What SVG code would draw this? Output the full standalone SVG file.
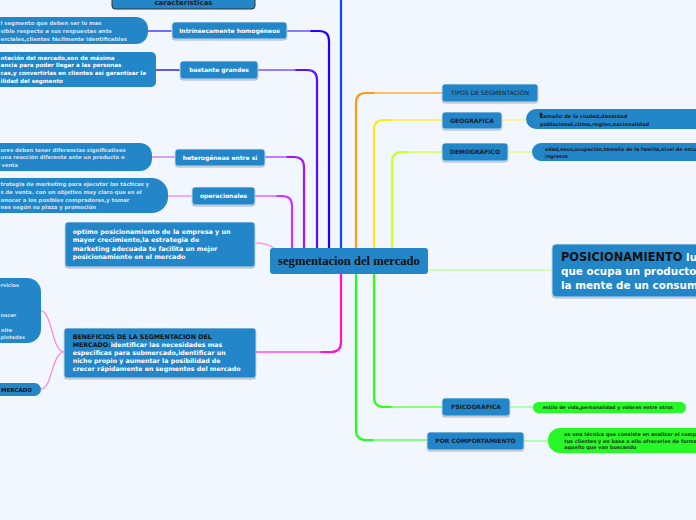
<svg xmlns="http://www.w3.org/2000/svg" width="696" height="520" viewBox="0 0 696 520">
<defs>
<filter id="sh" x="-10%" y="-20%" width="120%" height="150%"><feDropShadow dx="0" dy="1" stdDeviation="0.7" flood-color="#556070" flood-opacity="0.55"/></filter>
<style>
.node{fill:#2386c9;stroke:#e4ecf6;stroke-width:0.8;filter:url(#sh)}
.desc{fill:#2386c9}
.gdesc{fill:#28f828}
.t{font-family:"DejaVu Sans",Verdana,sans-serif;font-weight:bold}
.w{fill:#ffffff}
.d{fill:#1a1c2c}
.l{fill:#d6e2f0}
.c{fill:none;stroke-linecap:round}
</style>
</defs>
<rect width="696" height="520" fill="#f2f6fe"/>

<g id="connectors">
<path class="c" d="M255,196 H282 Q292,196 292,206 V249" stroke="#cc33ff" stroke-width="2.2"/>
<path class="c" d="M256,196 H276" stroke="#e7a6ff" stroke-width="1.4"/>
<path class="c" d="M265,157 H294 Q304,157 304,167 V249" stroke="#9a1aff" stroke-width="2.2"/>
<path class="c" d="M266,157 H286" stroke="#c9a0ff" stroke-width="1.4"/>
<path class="c" d="M258,70 H307 Q317,70 317,80 V249" stroke="#5511ff" stroke-width="2.2"/>
<path class="c" d="M259,70 H295" stroke="#b0a0ff" stroke-width="1.4"/>
<path class="c" d="M287,31 H319 Q329,31 329,41 V249" stroke="#2200ff" stroke-width="2.2"/>
<path class="c" d="M288,31 H310" stroke="#a8a8ff" stroke-width="1.4"/>
<path class="c" d="M341,-2 V249" stroke="#1144ff" stroke-width="2.2"/>
<path class="c" d="M356,249 V103 Q356,93 366,93 H442" stroke="#ff9a11" stroke-width="2.2"/>
<path class="c" d="M375,93 H441" stroke="#ffc988" stroke-width="1.4"/>
<path class="c" d="M374,249 V130 Q374,120 384,120 H442" stroke="#ffea11" stroke-width="2.2"/>
<path class="c" d="M392,120 H441" stroke="#fff088" stroke-width="1.4"/>
<path class="c" d="M392,249 V162 Q392,152 402,152 H442" stroke="#ccff22" stroke-width="2.2"/>
<path class="c" d="M408,152 H441" stroke="#e6ff88" stroke-width="1.4"/>
<path class="c" d="M341,273 V342 Q341,352 331,352 H256" stroke="#ff11cc" stroke-width="2.2"/>
<path class="c" d="M320,352 H257" stroke="#ff99e6" stroke-width="1.4"/>
<path class="c" d="M374,273 V397 Q374,407 384,407 H442" stroke="#33ff11" stroke-width="2.2"/>
<path class="c" d="M392,407 H441" stroke="#a8ff99" stroke-width="1.4"/>
<path class="c" d="M356,273 V430 Q356,440 366,440 H427" stroke="#22ff22" stroke-width="2.2"/>
<path class="c" d="M374,440 H426" stroke="#a0ffa0" stroke-width="1.4"/>
<path class="c" d="M428,270 H551" stroke="#ccff99" stroke-width="1.4"/>
<path class="c" d="M255,243 C265,243 270,245 274,248" stroke="#ff99ee" stroke-width="1.4"/>
<path class="c" d="M148,31 H172" stroke="#4444ff" stroke-width="1.3"/>
<path class="c" d="M156,70 H180" stroke="#3322dd" stroke-width="1.3"/>
<path class="c" d="M152,157 H175" stroke="#cc88ee" stroke-width="1.3"/>
<path class="c" d="M168,196 H192" stroke="#ee99ee" stroke-width="1.3"/>
<path class="c" d="M64,352 C52,352 52,311 41,311" stroke="#ff77dd" stroke-width="1.1"/>
<path class="c" d="M64,352 C52,352 52,389 41,389" stroke="#ff77dd" stroke-width="1.1"/>
<path class="c" d="M502,120 H526" stroke="#fff088" stroke-width="1.4"/>
<path class="c" d="M508,152 H532" stroke="#e0ff77" stroke-width="1.4"/>
<path class="c" d="M510,407 H533" stroke="#99ff99" stroke-width="1.4"/>
<path class="c" d="M524,441 H548" stroke="#99ff99" stroke-width="1.4"/>
</g>

<g id="central">
<rect x="270" y="248" width="158" height="26" rx="3" fill="#2386c9"/>
<text x="349" y="265.2" text-anchor="middle" font-family="'Liberation Serif',serif" font-weight="bold" font-size="12.6" fill="#111">segmentacion del mercado</text>
</g>

<g id="caracteristicas">
<rect x="112" y="-20" width="143" height="29" rx="3" fill="#2386c9" stroke="#333" stroke-width="1"/>
<text x="183.5" y="4.5" text-anchor="middle" class="t d" font-size="7">características</text>
</g>

<g id="homogeneos">
<rect x="-20" y="17" width="168" height="27" rx="12" class="desc"/>
<text class="t l" font-size="5.4"><tspan x="0.5" y="25.3">l segmento que deben ser lo mas</tspan><tspan x="0.5" y="33">sible respecto a sus respuestas ante</tspan><tspan x="0.5" y="40.6">erciales,clientes fácilmente identificables</tspan></text>
<rect x="172" y="22" width="115" height="17" rx="3" class="node"/>
<text x="229.5" y="33" text-anchor="middle" class="t w" font-size="6">Intrínsecamente homogéneos</text>
</g>

<g id="grandes">
<rect x="-20" y="52" width="176" height="35" rx="5" class="desc"/>
<text class="t w" font-size="5.6"><tspan x="0.5" y="59.5">ntación del mercado,son de máxima</tspan><tspan x="0.5" y="67.2">ancia para poder llegar a las personas</tspan><tspan x="0.5" y="75">cas,y convertirlas en clientes así garantizar la</tspan><tspan x="0.5" y="82.6">ilidad del segmento</tspan></text>
<rect x="180" y="61" width="78" height="18" rx="3" class="node"/>
<text x="219" y="72.2" text-anchor="middle" class="t w" font-size="6">bastante grandes</text>
</g>

<g id="heterogeneas">
<rect x="-20" y="143" width="172" height="28" rx="12" class="desc"/>
<text class="t l" font-size="5.2"><tspan x="0.5" y="152">ores deben tener diferencias significativas</tspan><tspan x="0.5" y="159.4">una reacción diferente ante un producto o</tspan><tspan x="1.5" y="166.6">venta</tspan></text>
<rect x="175" y="149" width="90" height="17" rx="3" class="node"/>
<text x="220" y="159.6" text-anchor="middle" class="t w" font-size="6">heterogéneas entre sí</text>
</g>

<g id="operacionales">
<rect x="-20" y="178" width="188" height="35" rx="16" class="desc"/>
<text class="t l" font-size="5.3"><tspan x="0.5" y="186.3">trategia de marketing para ejecutar las tácticas y</tspan><tspan x="0.5" y="194.2">s de venta. con un objetivo muy claro que es el</tspan><tspan x="0.5" y="202.4">onocer a los posibles compradores,y tomar</tspan><tspan x="0.5" y="209.4">nes según su plaza y promoción</tspan></text>
<rect x="192" y="187" width="63" height="18" rx="3" class="node"/>
<text x="223.5" y="198.2" text-anchor="middle" class="t w" font-size="6">operacionales</text>
</g>

<g id="optimo">
<rect x="65" y="222" width="190" height="45" rx="3" class="node"/>
<text class="t w" font-size="6.4"><tspan x="72.7" y="234">optimo posicionamiento de la empresa y un</tspan><tspan x="72.7" y="242.3">mayor crecimiento,la estrategia de</tspan><tspan x="72.7" y="250.6">marketing adecuada te facilita un mejor</tspan><tspan x="72.7" y="259">posicionamiento en el mercado</tspan></text>
</g>

<g id="beneficios">
<rect x="64" y="328" width="192" height="50" rx="3" class="node"/>
<text class="t w" font-size="6.3"><tspan x="72.7" y="339" fill="#111">BENEFICIOS DE LA SEGMENTACION DEL</tspan><tspan x="72.7" y="346.8"><tspan fill="#111">MERCADO:</tspan>identificar las necesidades mas</tspan><tspan x="72.7" y="354.8">especificas para submercado,identificar un</tspan><tspan x="72.7" y="363">nicho propio y aumentar la posibilidad de</tspan><tspan x="72.7" y="371.3">crecer rápidamente en segmentos del mercado</tspan></text>
</g>

<g id="servicios">
<rect x="-20" y="278" width="61" height="65" rx="14" class="desc"/>
<text class="t l" font-size="5"><tspan x="0.5" y="287">rvicios</tspan><tspan x="0.5" y="316.5">nocer</tspan><tspan x="1" y="332">nite</tspan><tspan x="0.5" y="338.7">plotadas</tspan></text>
</g>

<g id="mercado">
<rect x="-20" y="383" width="61" height="13" rx="6.5" class="desc"/>
<text x="1" y="391.8" class="t" fill="#111" font-size="5.5">MERCADO</text>
</g>

<g id="tipos">
<rect x="442" y="84" width="96" height="18" rx="3" class="node"/>
<text x="490" y="95.2" text-anchor="middle" font-family="'DejaVu Sans',Verdana,sans-serif" font-size="6" class="d">TIPOS DE SEGMENTACIÓN</text>
</g>

<g id="geografica">
<rect x="526" y="109" width="200" height="20" rx="10" class="desc"/>
<text class="t d" font-size="5.1"><tspan x="539.5" y="117.8"><tspan font-size="7.5" fill="#000">t</tspan>amaño de la ciudad,densidad</tspan><tspan x="540" y="126.2">poblacional,clima,region,nacionalidad</tspan></text>
<rect x="442" y="112" width="60" height="17" rx="3" class="node"/>
<text x="472" y="122.6" text-anchor="middle" class="t d" font-size="6">GEOGRÁFICA</text>
</g>

<g id="demografico">
<rect x="532" y="143" width="200" height="18" rx="9" class="desc"/>
<text class="t d" font-size="4.8"><tspan x="545" y="150.6">edad,sexo,ocupación,tamaño de la familia,nivel de estudios</tspan><tspan x="545" y="157.6">ingresos</tspan></text>
<rect x="442" y="143" width="66" height="18" rx="3" class="node"/>
<text x="475" y="154.2" text-anchor="middle" class="t d" font-size="6">DEMOGRÁFICO</text>
</g>

<g id="posicionamiento">
<rect x="552" y="244" width="170" height="53" rx="4" class="node"/>
<text class="t w" font-size="10.4"><tspan x="561" y="260.7"><tspan fill="#111" font-size="11.4">POSICIONAMIENTO</tspan> lugar</tspan><tspan x="561" y="274.7">que ocupa un producto</tspan><tspan x="561" y="288.7">la mente de un consumidor</tspan></text>
</g>

<g id="psicografica">
<rect x="533" y="402" width="153" height="11" rx="5.5" class="gdesc"/>
<text x="542.7" y="409.2" class="t" fill="#1a3a1a" font-size="4.75">estilo de vida,personalidad y valores entre otros</text>
<rect x="442" y="398" width="68" height="18" rx="3" class="node"/>
<text x="476" y="409.2" text-anchor="middle" class="t d" font-size="6">PSICOGRAFICA</text>
</g>

<g id="comportamiento">
<rect x="548" y="428" width="180" height="25" rx="12" class="gdesc"/>
<text class="t" fill="#1a3a1a" font-size="4.9"><tspan x="564.3" y="436">es una técnica que consiste en analizar el comportamiento</tspan><tspan x="564.3" y="442.6">tus clientes y en base a ello ofrecerles de forma</tspan><tspan x="564.3" y="449.2">aquello que van buscando</tspan></text>
<rect x="427" y="432" width="97" height="18" rx="3" class="node"/>
<text x="475.5" y="443.4" text-anchor="middle" class="t d" font-size="6">POR COMPORTAMIENTO</text>
</g>
</svg>
